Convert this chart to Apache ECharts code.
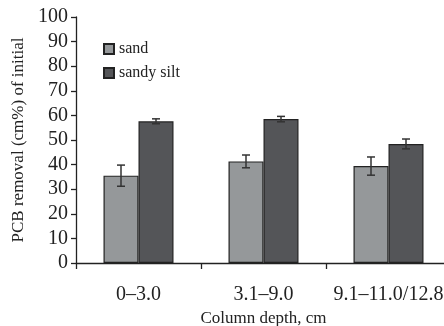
<!DOCTYPE html>
<html>
<head>
<meta charset="utf-8">
<script src="https://cdn.jsdelivr.net/npm/echarts@6/dist/echarts.min.js"></script>
<style>
  html, body { margin: 0; padding: 0; background: #fff; }
  #chart { width: 444px; height: 326px; }
</style>
</head>
<body>
<div id="chart"></div>
<script>
// 数据
var categories = ['0–3.0', '3.1–9.0', '9.1–11.0/12.8'];
var sandValues = [35.5, 41.3, 39.4];
var sandErrors = [4.3, 2.6, 3.7];
var siltValues = [57.6, 58.5, 48.4];
var siltErrors = [1.0, 1.1, 2.0];
var yTicks = { min: 0, max: 100, interval: 10 };

var serifFont = '"Liberation Serif", "DejaVu Serif", serif';
var axisColor = '#222';

var chart = echarts.init(document.getElementById('chart'));

// 误差线 (custom series)
function errorSeries(values, errors, offset) {
  var data = values.map(function (v, i) { return [i, v - errors[i], v + errors[i]]; });
  return {
    type: 'custom',
    silent: true,
    z: 10,
    data: data,
    renderItem: function (params, api) {
      var idx = api.value(0);
      var lo = api.coord([idx, api.value(1)]);
      var hi = api.coord([idx, api.value(2)]);
      var x = lo[0] + offset;
      var cap = 4;
      var style = { stroke: '#333', lineWidth: 1.5 };
      return {
        type: 'group',
        children: [
          { type: 'line', shape: { x1: x, y1: lo[1], x2: x, y2: hi[1] }, style: style },
          { type: 'line', shape: { x1: x - cap, y1: hi[1], x2: x + cap, y2: hi[1] }, style: style },
          { type: 'line', shape: { x1: x - cap, y1: lo[1], x2: x + cap, y2: lo[1] }, style: style }
        ]
      };
    }
  };
}

chart.setOption({
  animation: false,
  grid: { left: 76, right: -7, top: 17, bottom: 63, containLabel: false, outerBoundsMode: 'none' },
  legend: {
    orient: 'vertical',
    left: 98,
    top: 36,
    itemGap: 8,
    itemWidth: 10,
    itemHeight: 10,
    icon: 'rect',
    data: ['sand', 'sandy silt'],
    textStyle: { fontFamily: serifFont, fontSize: 16, color: '#222' }
  },
  xAxis: {
    type: 'category',
    data: categories,
    name: 'Column depth, cm',
    nameLocation: 'middle',
    nameGap: 46,
    nameTextStyle: { fontFamily: serifFont, fontSize: 17, color: '#222' },
    axisLine: { lineStyle: { color: axisColor, width: 1.3 } },
    axisTick: { show: true, interval: 0, length: 6, lineStyle: { color: axisColor, width: 1.3 } },
    axisLabel: { interval: 0, hideOverlap: false, fontFamily: serifFont, fontSize: 20, color: '#222', margin: 22 }
  },
  yAxis: {
    type: 'value',
    min: yTicks.min,
    max: yTicks.max,
    interval: yTicks.interval,
    name: 'PCB removal (cm%) of initial',
    nameLocation: 'middle',
    nameGap: 45,
    nameTextStyle: { fontFamily: serifFont, fontSize: 17, color: '#222' },
    splitLine: { show: false },
    axisLine: { show: true, lineStyle: { color: axisColor, width: 1.3 } },
    axisTick: { show: true, length: 5, lineStyle: { color: axisColor, width: 1.3 } },
    axisLabel: { fontFamily: serifFont, fontSize: 20, color: '#222', margin: 8 }
  },
  series: [
    {
      name: 'sand',
      type: 'bar',
      data: sandValues,
      barWidth: 35,
      barGap: '0%',
      itemStyle: { color: '#95989a', borderColor: '#222', borderWidth: 1.2 }
    },
    {
      name: 'sandy silt',
      type: 'bar',
      data: siltValues,
      barWidth: 35,
      barGap: '0%',
      itemStyle: { color: '#545558', borderColor: '#222', borderWidth: 1.2 }
    },
    errorSeries(sandValues, sandErrors, -17.5),
    errorSeries(siltValues, siltErrors, 17.5)
  ]
});
</script>
</body>
</html>
